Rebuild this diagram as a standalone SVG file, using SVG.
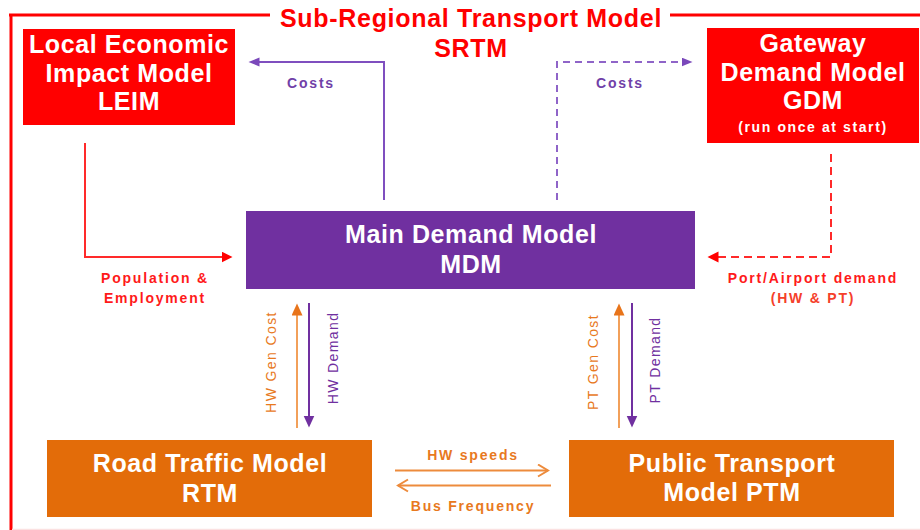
<svg xmlns="http://www.w3.org/2000/svg" width="920" height="530" viewBox="0 0 920 530">
<style>
.big{font-family:"Liberation Sans",Arial,sans-serif;font-weight:bold;font-size:25px;letter-spacing:0.6px;fill:#fff;text-anchor:middle}
.title{font-family:"Liberation Sans",Arial,sans-serif;font-weight:bold;font-size:25px;letter-spacing:0.7px;fill:#FF0000;text-anchor:middle}
.sm{font-family:"Liberation Sans",Arial,sans-serif;font-weight:bold;font-size:14px;letter-spacing:1.8px;text-anchor:middle}
.rot{font-family:"Liberation Sans",Arial,sans-serif;font-size:14px;letter-spacing:1.4px;text-anchor:middle}
.ln{fill:none;stroke-width:2}
</style>
<defs>
<marker id="hPurple" markerUnits="userSpaceOnUse" markerWidth="12" markerHeight="10" refX="0.5" refY="4.5" orient="auto"><path d="M0,0 L11,4.5 L0,9 z" fill="#7A48BA"/></marker>
<marker id="hRed" markerUnits="userSpaceOnUse" markerWidth="12" markerHeight="12" refX="0.5" refY="5.5" orient="auto"><path d="M0,0 L11,5.5 L0,11 z" fill="#FF0000"/></marker>
<marker id="hOrange" markerUnits="userSpaceOnUse" markerWidth="13" markerHeight="12" refX="0.5" refY="5.5" orient="auto"><path d="M0,0 L12,5.5 L0,11 z" fill="#E8741A"/></marker>
<marker id="hDPurple" markerUnits="userSpaceOnUse" markerWidth="13" markerHeight="12" refX="0.5" refY="5.5" orient="auto"><path d="M0,0 L12,5.5 L0,11 z" fill="#7030A0"/></marker>
<marker id="hChev" markerUnits="userSpaceOnUse" markerWidth="14" markerHeight="16" refX="11" refY="7" orient="auto"><polyline points="1,1 11,7 1,13" fill="none" stroke="#ED8B3C" stroke-width="2"/></marker>
</defs>
<rect x="0" y="0" width="920" height="530" fill="#fff"/>

<g id="frame">
<path d="M9,15 H270 M670,15 H920" stroke="#FF0000" stroke-width="3" fill="none"/>
<path d="M11,14 V530" stroke="#FF0000" stroke-width="3" fill="none"/>
<path d="M12,529.5 H920" stroke="#FBE1E1" stroke-width="1.5" fill="none"/>
<text class="title" x="471" y="27">Sub-Regional Transport Model</text>
<text class="title" x="471" y="57">SRTM</text>
</g>

<g id="connectors">
<path class="ln" d="M384,200 V62 H259" stroke="#7F4FBF" marker-end="url(#hPurple)"/>
<text class="sm" x="311" y="88" fill="#7040A8">Costs</text>
<path class="ln" d="M557,200 V62 H682" stroke="#8F64C8" stroke-dasharray="7,5" marker-end="url(#hPurple)"/>
<text class="sm" x="620" y="88" fill="#7040A8">Costs</text>
<path class="ln" d="M85,143 V257 H222" stroke="#FF2A2A" marker-end="url(#hRed)"/>
<text class="sm" x="155" y="283" fill="#FF1A1A">Population &amp;</text>
<text class="sm" x="155" y="303" fill="#FF1A1A">Employment</text>
<path class="ln" d="M831,154 V257 H718" stroke="#FF2A2A" stroke-dasharray="8,5" marker-end="url(#hRed)"/>
<text class="sm" x="813" y="283" fill="#FF1A1A">Port/Airport demand</text>
<text class="sm" x="813" y="303" fill="#F5402A">(HW &amp; PT)</text>

<path class="ln" d="M297,428 V315" stroke="#F2A05A" marker-end="url(#hOrange)"/>
<path class="ln" d="M309,303 V416" stroke="#7030A0" marker-end="url(#hDPurple)"/>
<text class="rot" transform="translate(276,362) rotate(-90)" fill="#E8791E">HW Gen Cost</text>
<text class="rot" transform="translate(338,358) rotate(-90)" fill="#7030A0">HW Demand</text>

<path class="ln" d="M619,428 V315" stroke="#F2A05A" marker-end="url(#hOrange)"/>
<path class="ln" d="M632,303 V416" stroke="#7030A0" marker-end="url(#hDPurple)"/>
<text class="rot" transform="translate(598,362) rotate(-90)" fill="#E8791E">PT Gen Cost</text>
<text class="rot" transform="translate(660,360) rotate(-90)" fill="#7030A0">PT Demand</text>

<path class="ln" d="M395,470.5 H548" stroke="#ED8B3C" marker-end="url(#hChev)"/>
<text class="sm" x="473" y="460" fill="#E8791E">HW speeds</text>
<path class="ln" d="M551,485.5 H398" stroke="#ED8B3C" marker-end="url(#hChev)"/>
<text class="sm" x="473" y="511" fill="#E8791E">Bus Frequency</text>
</g>

<g id="leim">
<rect x="23" y="29" width="212" height="96" fill="#FF0000"/>
<text class="big" x="129" y="53">Local Economic</text>
<text class="big" x="129" y="82">Impact Model</text>
<text class="big" x="129" y="110">LEIM</text>
</g>

<g id="gdm">
<rect x="707" y="28" width="212" height="115" fill="#FF0000"/>
<text class="big" x="813" y="52">Gateway</text>
<text class="big" x="813" y="81">Demand Model</text>
<text class="big" x="813" y="109">GDM</text>
<text class="sm" x="813" y="132" fill="#fff" style="letter-spacing:1.6px">(run once at start)</text>
</g>

<g id="mdm">
<rect x="246" y="211" width="449" height="78" fill="#7030A0"/>
<text class="big" x="471" y="243">Main Demand Model</text>
<text class="big" x="471" y="273">MDM</text>
</g>

<g id="rtm">
<rect x="47" y="440" width="325" height="77" fill="#E36C09"/>
<text class="big" x="210" y="472">Road Traffic Model</text>
<text class="big" x="210" y="502">RTM</text>
</g>

<g id="ptm">
<rect x="569" y="440" width="325" height="77" fill="#E36C09"/>
<text class="big" x="732" y="472">Public Transport</text>
<text class="big" x="732" y="501">Model PTM</text>
</g>
</svg>
